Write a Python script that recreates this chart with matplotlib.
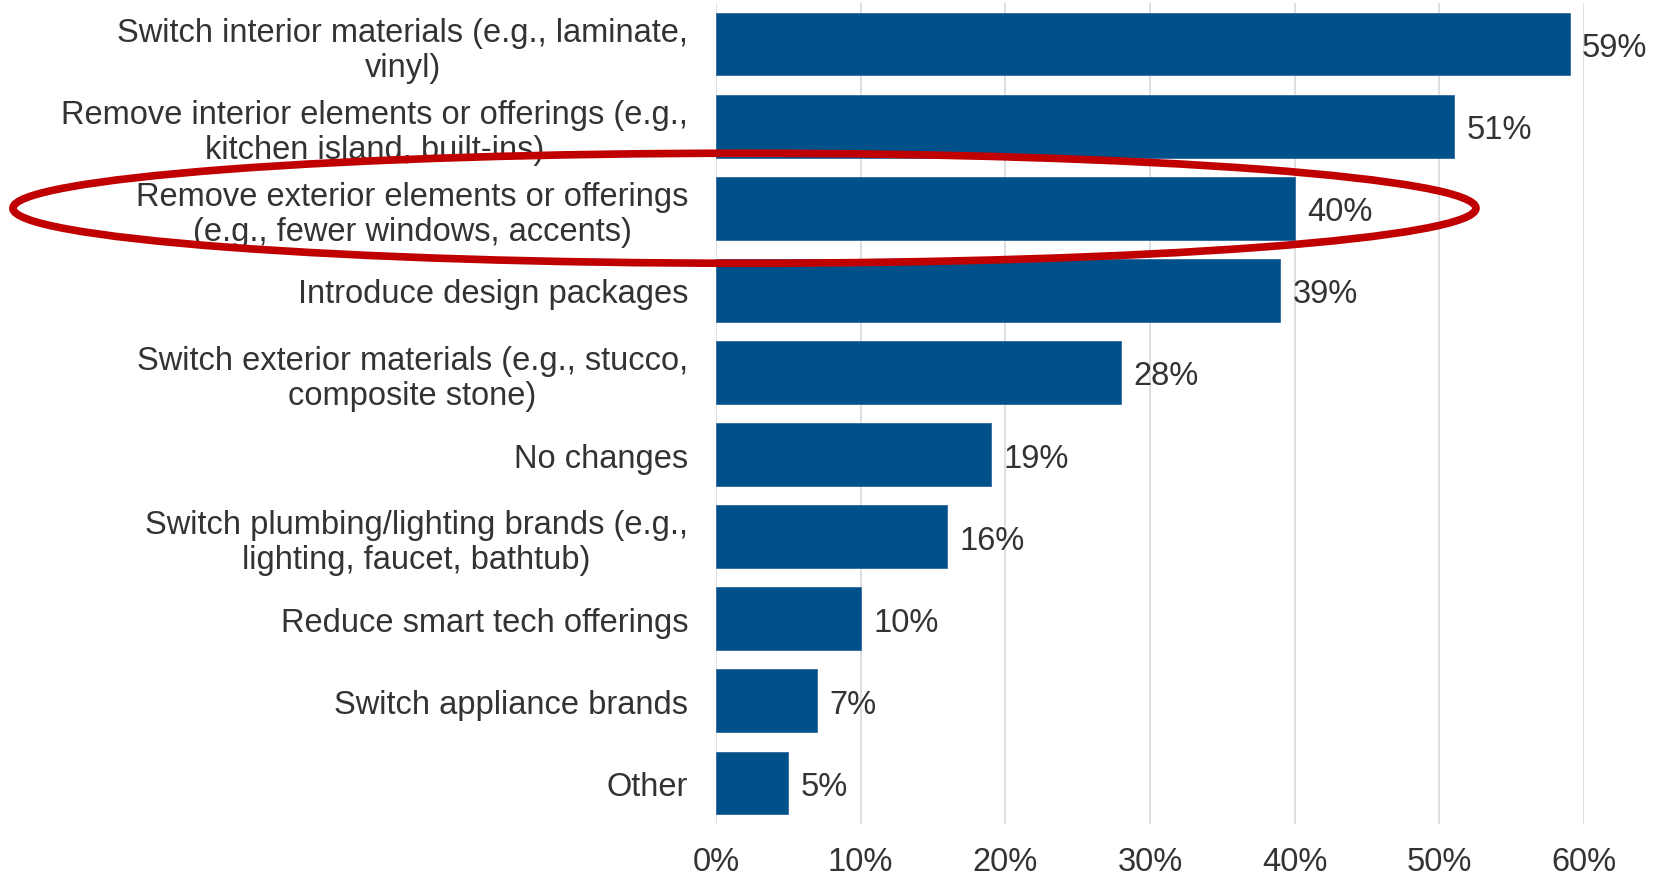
import matplotlib
matplotlib.use("Agg")
import matplotlib.pyplot as plt
from matplotlib.patches import Ellipse
from matplotlib.transforms import blended_transform_factory

plt.rcParams["font.family"] = ["Liberation Sans", "DejaVu Sans"]

# Survey responses: changes builders are making to product
categories = [
    "Switch interior materials (e.g., laminate,\nvinyl)",
    "Remove interior elements or offerings (e.g.,\nkitchen island, built-ins)",
    "Remove exterior elements or offerings\n(e.g., fewer windows, accents)",
    "Introduce design packages",
    "Switch exterior materials (e.g., stucco,\ncomposite stone)",
    "No changes",
    "Switch plumbing/lighting brands (e.g.,\nlighting, faucet, bathtub)",
    "Reduce smart tech offerings",
    "Switch appliance brands",
    "Other",
]
shares = [59, 51, 40, 39, 28, 19, 16, 10, 7, 5]
x_ticks = [0, 10, 20, 30, 40, 50, 60]
x_tick_labels = ["0%", "10%", "20%", "30%", "40%", "50%", "60%"]
highlight_index = 2

BAR_COLOR = "#00508A"
TEXT_COLOR = "#333333"
GRID_COLOR = "#D9D9D9"
RING_COLOR = "#C00000"
FS = 23.5

fig = plt.figure(figsize=(16.65, 8.79), dpi=100)
ax = fig.add_axes([0.430, 0.0614, 0.5214, 0.9341])

ypos = list(range(len(categories)))
ax.barh(ypos, shares, height=0.765, color=BAR_COLOR,
        edgecolor="#2F6A9E", linewidth=0.6, zorder=3)

for y, v in zip(ypos, shares):
    ax.annotate(f"{v}%", xy=(v, y), xytext=(9, 0), textcoords="offset points",
                ha="left", va="center_baseline", fontsize=FS, color=TEXT_COLOR)

ax.set_xlim(0, 60)
ax.set_ylim(len(categories) - 0.5, -0.5)
ax.set_xticks(x_ticks)
ax.set_xticklabels(x_tick_labels, fontsize=FS, color=TEXT_COLOR)
ax.set_yticks(ypos)
ax.set_yticklabels(categories, fontsize=FS, color=TEXT_COLOR, linespacing=1.17)
for t in ax.get_yticklabels():
    t.set_multialignment("center")

ax.tick_params(axis="y", length=0, pad=20)
ax.tick_params(axis="x", length=0, pad=16)
ax.grid(axis="x", color=GRID_COLOR, linewidth=1.2)
ax.grid(axis="y", visible=False)
ax.set_axisbelow(True)
for s in ax.spines.values():
    s.set_visible(False)

# Red ring around the highlighted response, spanning label and bar
trans = blended_transform_factory(fig.transFigure, ax.transData)
ring = Ellipse((0.4471, highlight_index), width=0.8787, height=1.34,
               transform=trans, fill=False, edgecolor=RING_COLOR,
               linewidth=5.5, clip_on=False, zorder=10)
ax.add_patch(ring)

fig.savefig("out.png", dpi=100)
